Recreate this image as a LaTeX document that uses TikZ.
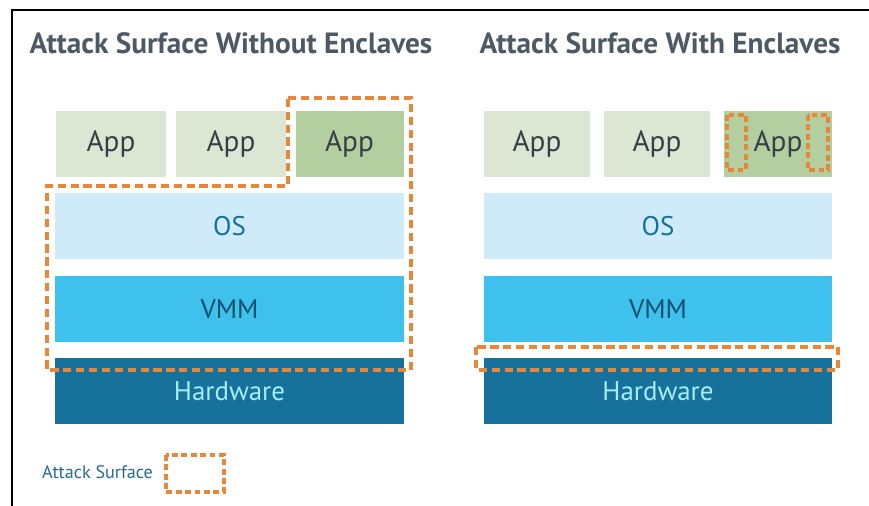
\documentclass[tikz,border=0pt]{standalone}
\usepackage{fontspec}
\setmainfont{PT Sans}
\usepackage{xcolor}

\definecolor{titlegray}{HTML}{4D5A66}
\definecolor{applight}{HTML}{DCE7D3}
\definecolor{appdark}{HTML}{B3CF9F}
\definecolor{osblue}{HTML}{CFEAF8}
\definecolor{vmmblue}{HTML}{3FC1EE}
\definecolor{hwblue}{HTML}{16729B}
\definecolor{surface}{HTML}{E8863A}

\tikzset{
  apptext/.style={text=titlegray!70!black, font=\fontsize{25}{25}\selectfont},
  appbox/.style={fill=applight, minimum width=3.3cm, minimum height=1.98cm, apptext},
  enclbox/.style={fill=appdark, minimum width=3.24cm, minimum height=1.98cm, apptext},
  layer/.style={minimum width=10.44cm, minimum height=1.98cm, font=\fontsize{23}{23}\selectfont},
  osbox/.style={layer, fill=osblue, text=hwblue},
  vmmbox/.style={layer, fill=vmmblue, text=hwblue!70!black},
  hwbox/.style={layer, fill=hwblue, text=osblue!80!cyan},
  title/.style={text=titlegray, font=\fontsize{25}{25}\selectfont\bfseries},
  surfline/.style={draw=surface, line width=2.6pt, dash pattern=on 7pt off 4pt}
}

\begin{document}
\begin{tikzpicture}[x=0.03cm, y=-0.03cm]
    \useasboundingbox (0,0) rectangle (869,506);
    % Frame
    \draw[line width=1.5pt] (12,506) -- (12,10) -- (869,10);

    % Titles
    \node[title] (ltitle) at (231,43) {Attack Surface Without Enclaves};
    \node[title] (rtitle) at (660,43) {Attack Surface With Enclaves};

    % Stack without enclaves
    \node[appbox] (lapp1) at (111,144) {App};
    \node[appbox] (lapp2) at (231,144) {App};
    \node[enclbox] (lapp3) at (349.5,144) {App};
    \node[osbox] (los) at (229.5,226) {OS};
    \node[vmmbox] (lvmm) at (229.5,309) {VMM};
    \node[hwbox] (lhw) at (229.5,391) {Hardware};

    % Stack with enclaves
    \node[appbox, minimum width=3.18cm] (rapp1) at (537,144) {App};
    \node[appbox, minimum width=3.18cm] (rapp2) at (657,144) {App};
    \node[enclbox] (rapp3) at (778,144) {App};
    \node[osbox] (ros) at (658,226) {OS};
    \node[vmmbox] (rvmm) at (658,309) {VMM};
    \node[hwbox] (rhw) at (658,391) {Hardware};

    % Attack surfaces
    \draw[surfline] (288,98) -- (411,98) -- (411,370) -- (47,370) -- (47,186) -- (288,186) -- cycle;
    \draw[surfline] (476,347) rectangle (838,370);
    \draw[surfline, dash pattern=on 5pt off 3pt] (727,115) rectangle (746,170);
    \draw[surfline, dash pattern=on 5pt off 3pt] (808,115) rectangle (828,170);

    % Legend
    \node[text=hwblue!70!titlegray, font=\fontsize{15.5}{15.5}\selectfont, anchor=west] (legend) at (38,472) {Attack Surface};
    \draw[surfline, dash pattern=on 5pt off 3pt] (166,455) rectangle (224,492);
\end{tikzpicture}
\end{document}
